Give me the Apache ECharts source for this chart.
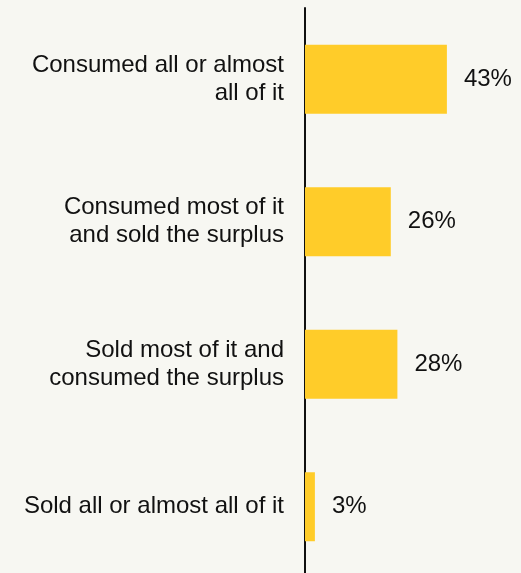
<!DOCTYPE html>
<html>
<head>
<meta charset="utf-8">
<script src="https://cdn.jsdelivr.net/npm/echarts@6/dist/echarts.min.js"></script>
<style>
html,body{margin:0;padding:0;background:#f7f7f2;}
#chart{width:521px;height:573px;}
</style>
</head>
<body>
<div id="chart"></div>
<script>
const categories = [
  "Consumed all or almost\nall of it",
  "Consumed most of it\nand sold the surplus",
  "Sold most of it and\nconsumed the surplus",
  "Sold all or almost all of it"
];
const values = [43, 26, 28, 3];

const chart = echarts.init(document.getElementById('chart'));
chart.setOption({
  backgroundColor: '#f7f7f2',
  animation: false,
  textStyle: { fontFamily: 'Liberation Sans, Arial, sans-serif' },
  grid: { left: 305, top: 8, width: 165, height: 570, containLabel: false, outerBoundsMode: 'none' },
  xAxis: {
    type: 'value', min: 0, max: 50, show: false
  },
  yAxis: {
    type: 'category',
    data: categories,
    inverse: true,
    axisLine: { show: true, lineStyle: { color: '#111', width: 2 } },
    axisTick: { show: false },
    axisLabel: {
      margin: 21,
      color: '#111',
      fontSize: 24,
      lineHeight: 28,
      align: 'right',
      fontFamily: 'Liberation Sans, Arial, sans-serif'
    }
  },
  series: [{
    type: 'bar',
    data: values,
    barWidth: 69,
    itemStyle: { color: '#ffcc29' },
    z: 1,
    label: {
      show: true,
      position: 'right',
      distance: 17,
      formatter: '{c}%',
      color: '#111',
      fontSize: 24,
      fontFamily: 'Liberation Sans, Arial, sans-serif'
    }
  }]
});
</script>
</body>
</html>
